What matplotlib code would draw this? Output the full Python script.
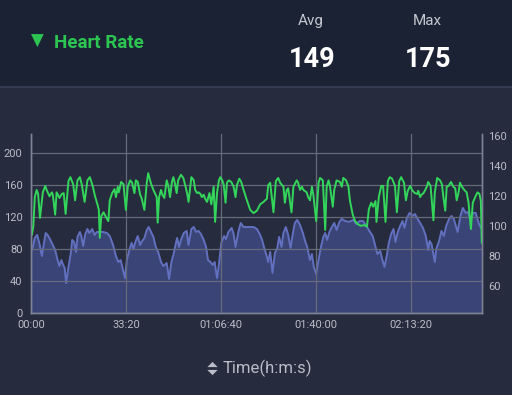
import matplotlib
matplotlib.use('Agg')
import matplotlib.pyplot as plt
from matplotlib.ticker import FuncFormatter, FixedLocator
from matplotlib.patches import Rectangle
from matplotlib.lines import Line2D

plt.rcParams['font.family'] = ['Roboto', 'DejaVu Sans']

# Heart rate (left axis), time in seconds
hr_time = [0, 20, 50, 80, 120, 150, 190, 250, 300, 330, 390, 440, 460, 510, 540, 600, 650, 690,
           730, 790, 830, 890, 930, 980, 1030, 1070, 1130, 1190, 1240, 1300, 1350, 1400, 1430,
           1450, 1480, 1530, 1580, 1630, 1660, 1710, 1760, 1790, 1830, 1850, 1900, 1950, 2000,
           2040, 2090, 2130, 2180, 2210, 2250, 2300, 2330, 2390, 2440, 2470, 2510, 2540, 2580,
           2610, 2650, 2670, 2700, 2740, 2770, 2810, 2860, 2890, 2930, 2970, 3000, 3030, 3070,
           3100, 3160, 3210, 3250, 3290, 3320, 3380, 3430, 3460, 3500, 3530, 3570, 3600, 3640,
           3670, 3710, 3760, 3800, 3850, 3880, 3920, 3960, 3990, 4030, 4060, 4100, 4130, 4170,
           4220, 4270, 4310, 4340, 4390, 4430, 4480, 4550, 4620, 4690, 4760, 4830, 4900, 4970,
           5000, 5040, 5110, 5160, 5210, 5250, 5320, 5350, 5390, 5420, 5490, 5530, 5600, 5630,
           5670, 5710, 5740, 5810, 5840, 5880, 5920, 5950, 6010, 6060, 6090, 6150, 6200, 6230,
           6270, 6300, 6360, 6390, 6440, 6510, 6550, 6580, 6640, 6690, 6720, 6780, 6830, 6890,
           6950, 7020, 7080, 7120, 7170, 7210, 7260, 7280, 7330, 7380, 7420, 7470, 7520, 7560,
           7610, 7670, 7710, 7760, 7800, 7860, 7900, 7940, 7990, 8040, 8090, 8140, 8160, 8200,
           8230, 8270, 8300, 8340, 8370, 8420, 8480, 8510, 8560, 8620, 8660, 8690, 8730, 8760,
           8800, 8850, 8900, 8940, 8970, 9010, 9040, 9080, 9130, 9180, 9220, 9270, 9310, 9360,
           9410, 9450, 9480, 9500]
heart_rate = [101, 98, 109, 145, 154, 149, 119, 151, 159, 154, 146, 151, 148, 123, 151, 144, 149,
              150, 124, 165, 170, 161, 141, 166, 170, 161, 139, 166, 170, 159, 146, 136, 129, 94,
              121, 126, 120, 115, 141, 150, 155, 145, 158, 151, 164, 161, 129, 158, 166, 163, 150,
              166, 164, 148, 144, 129, 163, 175, 166, 160, 154, 150, 145, 113, 145, 154, 148, 144,
              166, 160, 145, 164, 170, 163, 150, 166, 173, 169, 160, 150, 139, 170, 166, 154, 150,
              151, 149, 145, 148, 143, 139, 150, 136, 158, 114, 150, 166, 170, 166, 161, 138, 163,
              166, 164, 158, 145, 160, 168, 164, 154, 141, 129, 125, 128, 136, 139, 143, 160, 163,
              126, 165, 169, 163, 158, 138, 154, 156, 126, 158, 166, 163, 154, 158, 154, 151, 145,
              141, 158, 148, 115, 163, 169, 166, 104, 158, 166, 159, 133, 154, 166, 164, 158, 169,
              166, 158, 141, 123, 115, 111, 109, 110, 108, 130, 138, 133, 140, 114, 145, 159, 159,
              114, 165, 170, 168, 159, 126, 165, 170, 163, 141, 153, 159, 153, 150, 149, 153, 145,
              148, 150, 153, 158, 164, 159, 116, 151, 169, 166, 161, 145, 128, 158, 159, 164, 158,
              156, 141, 151, 163, 158, 154, 151, 138, 105, 138, 145, 151, 149, 140, 88]

# Second series (right axis)
rs_time = [0, 40, 80, 130, 180, 230, 260, 310, 350, 400, 460, 510, 560, 600, 640, 670, 710, 740,
           790, 840, 870, 910, 950, 980, 1030, 1060, 1100, 1140, 1190, 1230, 1290, 1340, 1390,
           1450, 1520, 1600, 1660, 1730, 1790, 1840, 1890, 1920, 1980, 2020, 2080, 2120, 2160,
           2200, 2250, 2300, 2330, 2390, 2440, 2480, 2530, 2580, 2630, 2680, 2740, 2790, 2860,
           2910, 2960, 3000, 3050, 3080, 3120, 3160, 3220, 3280, 3320, 3380, 3430, 3480, 3530,
           3580, 3640, 3690, 3730, 3780, 3830, 3870, 3920, 3960, 4010, 4070, 4110, 4160, 4230,
           4270, 4310, 4370, 4420, 4480, 4580, 4690, 4760, 4820, 4870, 4910, 4960, 5000, 5040,
           5090, 5140, 5190, 5230, 5280, 5320, 5370, 5420, 5470, 5520, 5560, 5610, 5670, 5730,
           5770, 5820, 5880, 5920, 5960, 6010, 6060, 6110, 6160, 6200, 6240, 6290, 6340, 6390,
           6440, 6500, 6550, 6620, 6700, 6790, 6850, 6930, 7000, 7070, 7130, 7200, 7250, 7300,
           7360, 7400, 7450, 7500, 7540, 7590, 7640, 7680, 7730, 7780, 7830, 7870, 7920, 7980,
           8040, 8090, 8160, 8200, 8260, 8320, 8370, 8400, 8440, 8510, 8540, 8600, 8650, 8700,
           8750, 8810, 8860, 8910, 8960, 8990, 9050, 9100, 9160, 9210, 9260, 9320, 9370, 9420,
           9460, 9490]
rs_value = [82.7, 86, 92, 94, 88, 80, 86, 95.3, 94, 91.3, 87.3, 84, 77.3, 73.3, 77.3, 74.7, 72,
            62, 72.7, 82, 90.7, 89.3, 82.7, 92.7, 96, 93.3, 86.7, 94, 98, 95.3, 98, 94, 96, 96,
            96, 95.3, 93.3, 87.3, 80, 76, 77.3, 73.3, 65.3, 77.3, 84.7, 88.7, 84.7, 89.3, 93.3,
            87.3, 89.3, 92, 97.3, 99.3, 96, 92.7, 86, 82.7, 76, 73.3, 75.3, 64.7, 76, 80.7, 88,
            92, 86, 90.7, 95.3, 96.7, 87.3, 98, 99.3, 96, 96.7, 94.7, 90.7, 86, 77.3, 76, 74, 76,
            65.3, 74, 88.7, 93.3, 91.3, 96, 98.7, 94.7, 86, 96, 102, 99.3, 99.3, 99.3, 98, 94.7,
            90.7, 86, 80.7, 76, 82.7, 68.7, 82, 85.3, 92.7, 86, 95.3, 99.3, 94, 85.3, 95.3, 102,
            104, 100.7, 95.3, 90.7, 86, 77.3, 81.3, 72.7, 68, 77.3, 86, 92.7, 95.3, 90.7, 96,
            99.3, 102, 97.3, 102.7, 104.7, 103.3, 102.7, 104, 101.3, 103.3, 103.3, 100, 96.7,
            93.3, 87.3, 81.3, 83.3, 78, 72.7, 80.7, 88.7, 94.7, 98, 89.3, 96, 100, 103.3, 98.7,
            105.3, 108.7, 106.7, 108, 104, 102, 98.7, 93.3, 84, 90, 88, 76, 84.7, 90, 96.7, 93.3,
            100, 104.7, 106.7, 104.7, 99.3, 96, 106.7, 112, 108.7, 109.3, 104.7, 108.7, 108.7,
            103.3, 100, 98.7]

x_ticks = [0, 2000, 4000, 6000, 8000]
left_ticks = [0, 40, 80, 120, 160, 200]
right_ticks = [60, 80, 100, 120, 140, 160]

bg = '#262b3d'
header_bg = '#1b2233'
label_col = '#b9bdc7'
green = '#33d65a'

fig = plt.figure(figsize=(5.12, 3.95), dpi=100, facecolor=bg)

# header band
fig.patches.append(Rectangle((0, 0.78), 1, 0.22, transform=fig.transFigure,
                             facecolor=header_bg, edgecolor='none', zorder=0))
fig.add_artist(Line2D([0, 1], [0.779, 0.779], transform=fig.transFigure,
                      color='#343b50', linewidth=1.5))

fig.text(0.0735, 0.8975, '\u25BC', family='DejaVu Sans', fontsize=12, color='#2cc552',
         ha='center', va='center')
fig.text(0.1055, 0.8792, 'Heart Rate', fontsize=13.5, fontweight='bold', color='#2cc552',
         ha='left', va='baseline')
fig.text(0.6074, 0.9367, 'Avg', fontsize=11, color='#c3c7cf', ha='center', va='baseline')
fig.text(0.6088, 0.8312, '149', fontsize=19.5, fontweight='bold', color='white',
         ha='center', va='baseline')
fig.text(0.8354, 0.9367, 'Max', fontsize=11, color='#c3c7cf', ha='center', va='baseline')
fig.text(0.8354, 0.8312, '175', fontsize=19.5, fontweight='bold', color='white',
         ha='center', va='baseline')

# chart
ax = fig.add_axes([0.0605, 0.2076, 0.881, 0.4532])
axr = ax.twinx()
ax.set_zorder(axr.get_zorder() + 1)
ax.patch.set_visible(False)
axr.set_facecolor(bg)

axr.fill_between(rs_time, rs_value, 0, color='#3b4476', linewidth=0)
axr.plot(rs_time, rs_value, color='#6270c0', linewidth=1.4)
ax.plot(hr_time, heart_rate, color=green, linewidth=1.4)

ax.set_xlim(0, 9505)
ax.set_ylim(0, 224)
axr.set_ylim(42, 161.3)

ax.xaxis.set_major_locator(FixedLocator(x_ticks))
ax.yaxis.set_major_locator(FixedLocator(left_ticks))
axr.yaxis.set_major_locator(FixedLocator(right_ticks))


def fmt_time(v, pos):
    s = int(round(v))
    h, m, sec = s // 3600, (s % 3600) // 60, s % 60
    if h == 0:
        return f'{m:02d}:{sec:02d}'
    return f'{h:02d}:{m:02d}:{sec:02d}'


ax.xaxis.set_major_formatter(FuncFormatter(fmt_time))

ax.grid(True, color='#666b7c', linewidth=0.9)
for a in (ax, axr):
    a.spines['top'].set_visible(False)
    for side in ('left', 'right', 'bottom'):
        a.spines[side].set_color('#7d8296')
        a.spines[side].set_linewidth(1.0)
ax.tick_params(axis='x', length=0, pad=5, labelsize=8, labelcolor=label_col)
ax.tick_params(axis='y', length=0, pad=6, labelsize=8, labelcolor=label_col)
axr.tick_params(axis='y', length=0, pad=4.5, labelsize=8, labelcolor=label_col)

# x-axis caption with sort icon (two flat triangles)
up_tri = [(-1, -0.5), (1, -0.5), (0, 0.5), (-1, -0.5)]
down_tri = [(-1, 0.5), (1, 0.5), (0, -0.5), (-1, 0.5)]
fig.add_artist(Line2D([0.4135], [0.0788], transform=fig.transFigure, marker=up_tri,
                      markersize=7.5, markeredgewidth=0, color=label_col, linestyle='none'))
fig.add_artist(Line2D([0.4135], [0.0582], transform=fig.transFigure, marker=down_tri,
                      markersize=7.5, markeredgewidth=0, color=label_col, linestyle='none'))
fig.text(0.435, 0.0549, 'Time(h:m:s)', fontsize=12, color=label_col, ha='left', va='baseline')

fig.savefig('out.png', dpi=100, facecolor=bg)
